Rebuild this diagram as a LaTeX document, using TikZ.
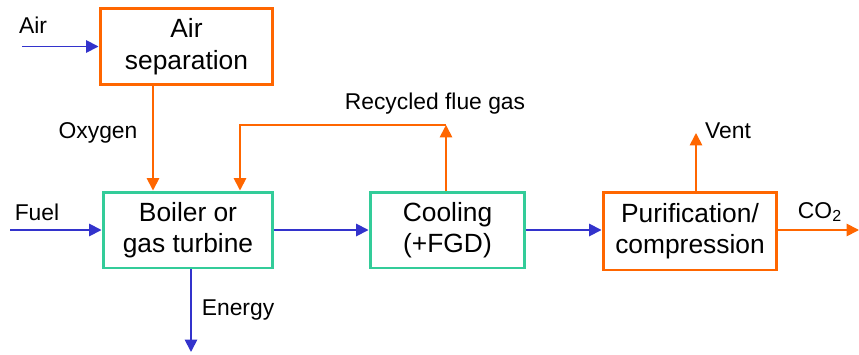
\documentclass[tikz,border=0pt]{standalone}
\usepackage{fontspec}
\setmainfont{Liberation Sans}
\usetikzlibrary{arrows.meta}

\definecolor{flowblue}{RGB}{51,51,204}
\definecolor{floworange}{RGB}{255,102,0}
\definecolor{flowteal}{RGB}{51,204,153}

\tikzset{
  unitbox/.style={draw, line width=1.7pt, fill=white, align=center,
    font=\fontsize{15}{18}\selectfont, inner sep=2pt},
  orangebox/.style={unitbox, draw=floworange},
  tealbox/.style={unitbox, draw=flowteal},
  bluearr/.style={draw=flowblue, line width=1pt, -{Triangle[length=7pt,width=7pt]}, color=flowblue},
  orangearr/.style={draw=floworange, line width=1pt, -{Triangle[length=7pt,width=7pt]}, color=floworange},
  lbl/.style={font=\fontsize{13}{15}\selectfont, inner sep=1pt}
}

\begin{document}
\begin{tikzpicture}[x=0.02cm, y=-0.02cm]

    % 画布
    \useasboundingbox (0,0) rectangle (859,355);

    % 画方框
    \node[orangebox, minimum width=3.46cm, minimum height=1.54cm] (airsep) at (186.5,46.5) {Air\\separation};
    \node[tealbox, minimum width=3.40cm, minimum height=1.52cm] (boiler) at (188,230) {Boiler or\\gas turbine};
    \node[tealbox, minimum width=3.10cm, minimum height=1.52cm] (cooling) at (447.5,230) {Cooling\\(+FGD)};
    \node[orangebox, minimum width=3.48cm, minimum height=1.56cm] (purif) at (690,231) {Purification/\\compression};

    % 端点
    \coordinate (airin) at (22,46.5);
    \coordinate (fuelin) at (10,230);
    \coordinate (oxy) at (153,0);
    \coordinate (en) at (191,352);
    \coordinate (rcup) at (446,125);
    \coordinate (rcleft) at (240,125);
    \coordinate (vent) at (696,133);
    \coordinate (co2out) at (859,230);

    % 画箭头
    \draw[bluearr] (airin) -- (airsep.west);
    \draw[orangearr] (airsep.south -| oxy) -- (boiler.north -| oxy);
    \draw[bluearr] (fuelin) -- (boiler.west);
    \draw[bluearr] (boiler.south -| en) -- (en);
    \draw[bluearr] (boiler.east) -- (cooling.west);
    \draw[orangearr] (cooling.north -| rcup) -- (rcup);
    \draw[orangearr] (rcup) -- (rcleft) -- (boiler.north -| rcleft);
    \draw[bluearr] (cooling.east) -- (purif.west |- cooling.east);
    \draw[orangearr] (purif.north -| vent) -- (vent);
    \draw[orangearr] (purif.east |- co2out) -- (co2out);

    % 插入文字
    \node[lbl] (lair) at (33,25) {Air};
    \node[lbl] (loxy) at (98,133) {Oxygen};
    \node[lbl] (lfuel) at (37,212) {Fuel};
    \node[lbl] (lenergy) at (238,310) {Energy};
    \node[lbl] (lrecycle) at (435,104) {Recycled flue gas};
    \node[lbl] (lvent) at (728,131) {Vent};
    \node[lbl] (lco2) at (820,212) {CO\textsubscript{2}};

  \end{tikzpicture}
\end{document}
